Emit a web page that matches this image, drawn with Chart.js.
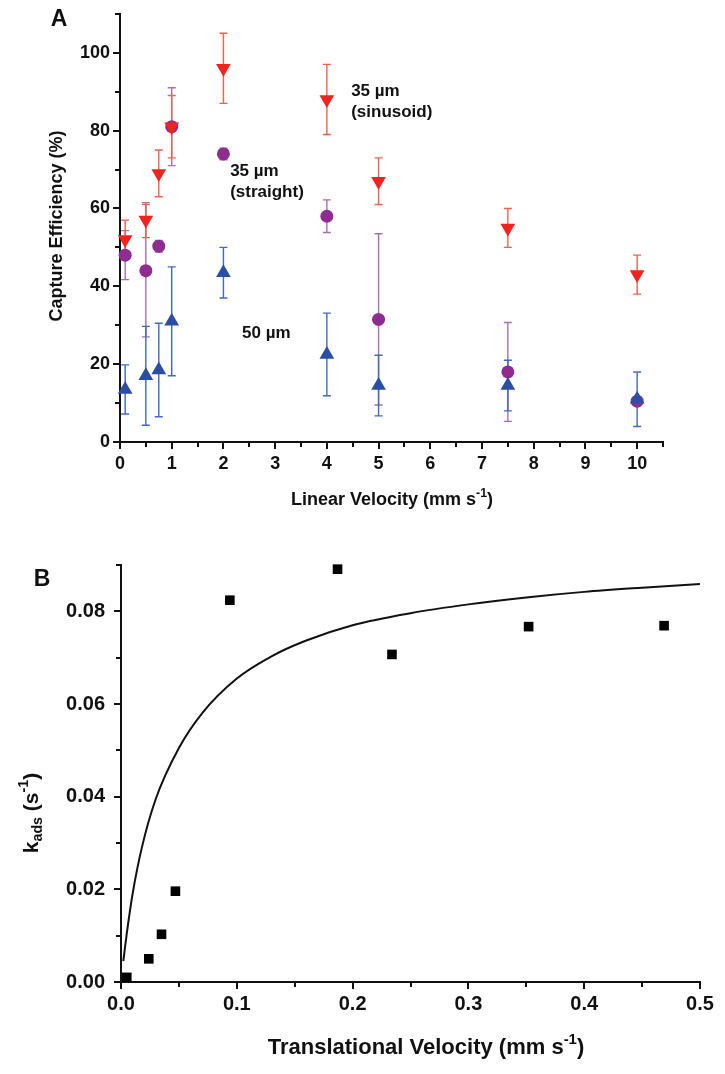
<!DOCTYPE html>
<html>
<head>
<meta charset="utf-8">
<script src="https://cdn.jsdelivr.net/npm/chart.js@4.4.1/dist/chart.umd.min.js"></script>
<style>
  body { margin: 0; background: #fff; }
  #wrapA { position: absolute; left: 0; top: 0; width: 725px; height: 525px; }
  #wrapB { position: absolute; left: 0; top: 530px; width: 725px; height: 544px; }
</style>
</head>
<body>
<div id="wrapA"><canvas id="chartA" width="725" height="525"></canvas></div>
<div id="wrapB"><canvas id="chartB" width="725" height="544"></canvas></div>
<script>
// panel A: capture efficiency vs linear velocity
const velocity = [0.1, 0.5, 0.75, 1, 2, 4, 5, 7.5, 10];
const sinusoid = [52, 57, 69, 81, 96, 88, 67, 55, 43];
const sinusoidErr = [5, 4.5, 6, 8, 9, 9, 6, 5, 5];
const straight = [48, 44, 50.3, 81, 74, 58, 31.5, 18, 10.5];
const straightErr = [6.3, 17, 1.5, 10, 1.5, 4.2, 22, 12.7, 1];
const wide = [13.5, 17, 18.5, 31, 43.5, 22.5, 14.5, 14.5, 11];
const wideErr = [6.3, 12.7, 12, 14, 6.5, 10.6, 7.8, 6.5, 7];

// panel B: k_ads vs translational velocity
const transVel = [0.005, 0.024, 0.035, 0.047, 0.094, 0.187, 0.234, 0.352, 0.469];
const kads = [0.001, 0.005, 0.0103, 0.0196, 0.0824, 0.0891, 0.0707, 0.0767, 0.0769];
// fitted curve
const fitVel = [0.002, 0.005, 0.01, 0.018, 0.03, 0.05, 0.07, 0.1, 0.13, 0.16, 0.2, 0.25, 0.3, 0.35, 0.4, 0.45, 0.5];
const fitK = [0.0045, 0.0105, 0.019, 0.029, 0.0395, 0.0505, 0.058, 0.0655, 0.0703, 0.0737, 0.077, 0.0796, 0.0815, 0.083, 0.0842, 0.0851, 0.0859];

const FONT = "'Liberation Sans', Arial, sans-serif";
const INK = '#111';

const pts = (xs, ys) => xs.map((x, i) => ({ x: x, y: ys[i] }));

// rotated / plain text with sub- and superscripts
function richText(ctx, parts, cx, cy, size, angle) {
  ctx.save();
  ctx.translate(cx, cy);
  ctx.rotate(angle || 0);
  ctx.fillStyle = INK;
  ctx.textBaseline = 'middle';
  ctx.textAlign = 'left';
  let total = 0;
  parts.forEach(p => {
    ctx.font = 'bold ' + (p.s || p.u ? size * 0.68 : size) + 'px ' + FONT;
    total += ctx.measureText(p.t).width;
  });
  let x = -total / 2;
  parts.forEach(p => {
    const sz = p.s || p.u ? size * 0.68 : size;
    ctx.font = 'bold ' + sz + 'px ' + FONT;
    const dy = p.u ? -size * 0.38 : (p.s ? size * 0.3 : 0);
    ctx.fillText(p.t, x, dy);
    x += ctx.measureText(p.t).width;
  });
  ctx.restore();
}

const errorBars = {
  id: 'errorBars',
  beforeDatasetsDraw(chart) {
    const { ctx, scales: { x, y } } = chart;
    chart.data.datasets.slice().reverse().forEach(ds => {
      if (!ds.errors) return;
      ctx.save();
      ctx.strokeStyle = ds.errorColor;
      ctx.lineWidth = 1.4;
      ds.data.forEach((p, i) => {
        const px = x.getPixelForValue(p.x);
        const top = y.getPixelForValue(p.y + ds.errors[i]);
        const bot = y.getPixelForValue(p.y - ds.errors[i]);
        ctx.beginPath();
        ctx.moveTo(px, top); ctx.lineTo(px, bot);
        ctx.moveTo(px - 4, top); ctx.lineTo(px + 4, top);
        ctx.moveTo(px - 4, bot); ctx.lineTo(px + 4, bot);
        ctx.stroke();
      });
      ctx.restore();
    });
  }
};

// short ticks halfway between the labelled ones
function minorTicks(xStep, yStep) {
  return {
    id: 'minorTicks',
    afterDraw(chart) {
      const { ctx, scales: { x, y }, chartArea } = chart;
      ctx.save();
      ctx.strokeStyle = INK;
      ctx.lineWidth = 2;
      ctx.beginPath();
      for (let v = x.min + xStep / 2; v < x.max + 1e-9; v += xStep) {
        const px = Math.round(x.getPixelForValue(v));
        ctx.moveTo(px, chartArea.bottom); ctx.lineTo(px, chartArea.bottom + 5);
      }
      for (let v = y.min + yStep / 2; v < y.max + 1e-9; v += yStep) {
        const py = Math.round(y.getPixelForValue(v));
        ctx.moveTo(chartArea.left, py); ctx.lineTo(chartArea.left - 5, py);
      }
      ctx.stroke();
      ctx.restore();
    }
  };
}

function axisOpts(min, max, step, decimals, fit, pad) {
  return {
    type: 'linear',
    min: min, max: max,
    border: { color: INK, width: 2 },
    grid: { drawOnChartArea: false, color: INK, lineWidth: 2, tickLength: 7 },
    ticks: {
      stepSize: step, includeBounds: false, color: INK, padding: pad,
      font: { family: FONT, weight: 'bold', size: fit.size },
      callback: v => decimals ? v.toFixed(decimals) : String(v)
    },
    afterFit: fit.fn
  };
}

const textA = {
  id: 'textA',
  afterDraw(chart) {
    const { ctx, scales: { x, y } } = chart;
    richText(ctx, [{ t: 'A' }], 59, 20, 23, 0);
    richText(ctx, [{ t: 'Capture Efficiency (%)' }], 57, 226, 18, -Math.PI / 2);
    richText(ctx, [{ t: 'Linear Velocity (mm s' }, { t: '-1', u: true }, { t: ')' }], 392, 500, 18, 0);
    ctx.save();
    ctx.fillStyle = INK;
    ctx.font = 'bold 17px ' + FONT;
    ctx.textBaseline = 'middle';
    const note = (lines, vx, vy) => lines.forEach((l, i) =>
      ctx.fillText(l, x.getPixelForValue(vx), y.getPixelForValue(vy) + i * 21));
    note(['35 \u00b5m', '(sinusoid)'], 4.47, 90);
    note(['35 \u00b5m', '(straight)'], 2.13, 69.6);
    note(['50 \u00b5m'], 2.36, 27.8);
    ctx.restore();
  }
};

new Chart(document.getElementById('chartA'), {
  type: 'scatter',
  data: {
    datasets: [
      {
        label: '35 um (sinusoid)', data: pts(velocity, sinusoid), errors: sinusoidErr,
        errorColor: '#f0624e', backgroundColor: '#ee2420', borderColor: '#ee2420',
        pointStyle: 'triangle', rotation: 180, pointRadius: 8.5, borderWidth: 0, clip: false
      },
      {
        label: '50 um', data: pts(velocity, wide), errors: wideErr,
        errorColor: '#4169c2', backgroundColor: '#2b4ea4', borderColor: '#2b4ea4',
        pointStyle: 'triangle', pointRadius: 8.5, borderWidth: 0, clip: false
      },
      {
        label: '35 um (straight)', data: pts(velocity, straight), errors: straightErr,
        errorColor: '#a66fae', backgroundColor: '#8e2c90', borderColor: '#8e2c90',
        pointStyle: 'circle', pointRadius: 6.5, borderWidth: 0, clip: false
      }
    ]
  },
  options: {
    responsive: false,
    animation: false,
    events: [],
    layout: { padding: { left: 0, top: 5, right: 62, bottom: 0 } },
    plugins: { legend: { display: false }, tooltip: { enabled: false } },
    scales: {
      x: axisOpts(0, 10.5, 1, 0, { size: 18, fn: s => { s.height = 83; } }, 4),
      y: axisOpts(0, 110, 20, 0, { size: 18, fn: s => { s.width = 120; } }, 3)
    }
  },
  plugins: [errorBars, minorTicks(1, 20), textA]
});

const textB = {
  id: 'textB',
  afterDraw(chart) {
    const ctx = chart.ctx;
    richText(ctx, [{ t: 'B' }], 42, 50, 23, 0);
    richText(ctx, [{ t: 'k' }, { t: 'ads', s: true }, { t: ' (s' }, { t: '-1', u: true }, { t: ')' }],
      32, 283, 21, -Math.PI / 2);
    richText(ctx, [{ t: 'Translational Velocity (mm s' }, { t: '-1', u: true }, { t: ')' }], 426, 518, 22, 0);
  }
};

new Chart(document.getElementById('chartB'), {
  type: 'scatter',
  data: {
    datasets: [
      {
        label: 'kads', data: pts(transVel, kads),
        backgroundColor: '#000', borderColor: '#000',
        pointStyle: 'rect', pointRadius: 6.8, borderWidth: 0, clip: false
      },
      {
        label: 'fit', data: pts(fitVel, fitK), showLine: true,
        borderColor: '#111', borderWidth: 2, pointRadius: 0,
        cubicInterpolationMode: 'monotone', clip: false
      }
    ]
  },
  options: {
    responsive: false,
    animation: false,
    events: [],
    layout: { padding: { left: 0, top: 35, right: 25, bottom: 0 } },
    plugins: { legend: { display: false }, tooltip: { enabled: false } },
    scales: {
      x: axisOpts(0, 0.5, 0.1, 1, { size: 20, fn: s => { s.height = 92; } }, 3),
      y: axisOpts(0, 0.09, 0.02, 2, { size: 20, fn: s => { s.width = 121; } }, 9)
    }
  },
  plugins: [minorTicks(0.1, 0.02), textB]
});
</script>
</body>
</html>
